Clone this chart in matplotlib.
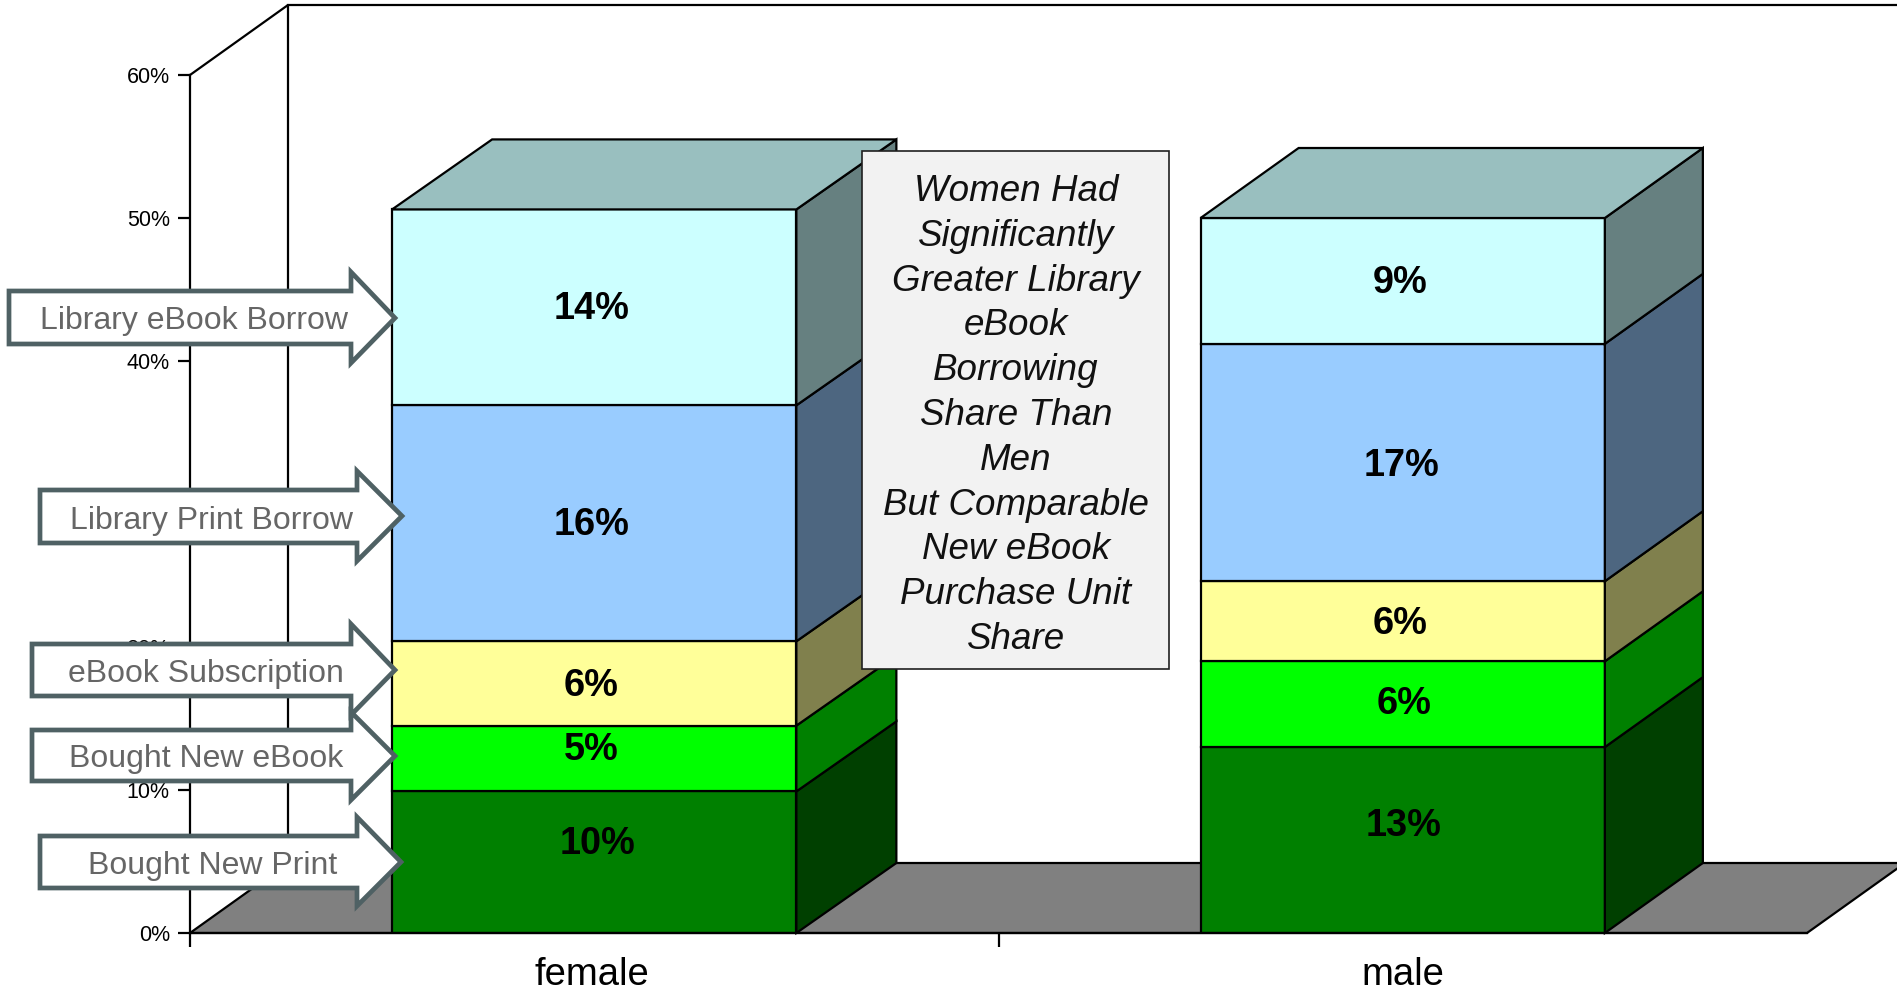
import matplotlib
matplotlib.use("Agg")
import matplotlib.pyplot as plt
from matplotlib.patches import Polygon, Rectangle
from matplotlib.transforms import Affine2D
from matplotlib.colors import to_rgb

plt.rcParams['font.family'] = ['Liberation Sans', 'DejaVu Sans']

# ---- data ----
categories = ["female", "male"]
series_names = ["Bought New Print", "Bought New eBook", "eBook Subscription",
                "Library Print Borrow", "Library eBook Borrow"]
female_values = [9.9, 4.6, 5.9, 16.5, 13.7]
male_values = [13.0, 6.0, 5.6, 16.6, 8.8]
female_labels = ["10%", "5%", "6%", "16%", "14%"]
male_labels = ["13%", "6%", "6%", "17%", "9%"]
y_ticks = [0, 10, 20, 30, 40, 50, 60]
note_lines = ["Women Had", "Significantly", "Greater Library", "eBook", "Borrowing",
              "Share Than", "Men", "But Comparable", "New eBook", "Purchase Unit", "Share"]

# ---- style ----
series_colors = ["#008000", "#00FF00", "#FFFF99", "#99CCFF", "#CCFFFF"]
W, H = 1897, 989
fig = plt.figure(figsize=(W / 100, H / 100), dpi=100, facecolor="white")
# pixel-based transform for annotations (origin top-left)
px = Affine2D().scale(1 / W, -1 / H).translate(0, 1) + fig.transFigure

AX_L, AX_R, AX_T, AX_B = 190, 1807, 75, 933
ax = fig.add_axes([AX_L / W, 1 - AX_B / H, (AX_R - AX_L) / W, (AX_B - AX_T) / H])
ax.set_xlim(0, 2)
ax.set_ylim(0, 60)
ax.patch.set_visible(False)

LW = 1.6
unit = 2 / (AX_R - AX_L)
DX = 98 * unit                # depth in x units
DY = 70 / (AX_B - AX_T) * 60  # depth in y units
BAR_W = 0.5
bar_depths = [100 * unit, 98 * unit]

for s in ("top", "right"):
    ax.spines[s].set_visible(False)
for s in ("left", "bottom"):
    ax.spines[s].set_linewidth(LW)
    ax.spines[s].set_zorder(6)

# floor and back wall
ax.add_patch(Polygon([(0, 0), (DX, DY), (2 + DX, DY), (2, 0)], closed=True,
                     facecolor="#808080", edgecolor="black", lw=LW, clip_on=False, zorder=1))
ax.plot([0, DX, DX], [60, 60 + DY, DY], color="black", lw=LW, clip_on=False, zorder=1)
ax.plot([DX, 2.3], [60 + DY, 60 + DY], color="black", lw=LW, clip_on=False, zorder=1)

def scaled(c, k):
    return tuple(v * k for v in to_rgb(c))

# 3-D stacked bars
for i, vals in enumerate([female_values, male_values]):
    x0 = i + 0.5 - BAR_W / 2
    x1 = x0 + BAR_W
    dx = bar_depths[i]
    bottom = 0
    for v, c in zip(vals, series_colors):
        top = bottom + v
        ax.bar(x0, v, BAR_W, bottom=bottom, align="edge", color=c,
               edgecolor="black", lw=LW, zorder=3)
        ax.add_patch(Polygon([(x1, bottom), (x1 + dx, bottom + DY), (x1 + dx, top + DY), (x1, top)],
                             closed=True, facecolor=scaled(c, 0.5), edgecolor="black",
                             lw=LW, clip_on=False, zorder=3))
        bottom = top
    ax.add_patch(Polygon([(x0, bottom), (x0 + dx, bottom + DY), (x1 + dx, bottom + DY), (x1, bottom)],
                         closed=True, facecolor=scaled(series_colors[-1], 0.75), edgecolor="black",
                         lw=LW, clip_on=False, zorder=3))

# axes ticks
ax.set_yticks(y_ticks)
ax.set_yticklabels([f"{t}%" for t in y_ticks], fontsize=15.5)
ax.tick_params(axis="y", length=9, width=LW, pad=5.5, color="black")
ax.set_xticks([0, 1])
ax.set_xticklabels([])
ax.tick_params(axis="x", length=10, width=LW, color="black")
ax.set_xticks([0.497, 1.5], minor=True)
ax.set_xticklabels(categories, minor=True, fontsize=27.5)
ax.tick_params(axis="x", which="minor", length=0, pad=17)

# value labels (positions as placed in the picture)
female_label_px = [(598, 844), (591, 750), (591, 686), (592, 525), (592, 309)]
male_label_px = [(1404, 826), (1404, 704), (1400, 624), (1401, 466), (1400, 283)]
for labs, pos in ((female_labels, female_label_px), (male_labels, male_label_px)):
    for t, (x, y) in zip(labs, pos):
        ax.text(x, y, t, transform=px, ha="center", va="center", fontsize=27.3,
                fontweight="bold", color="black", zorder=7)

# note box
fig.add_artist(Rectangle((862, 151), 307, 518, transform=px, facecolor="#F2F2F2",
                         edgecolor="#202020", lw=1.2, zorder=8))
for i, line in enumerate(note_lines):
    fig.text(1016, 191.5 + i * 44.8, line, transform=px, ha="center", va="center",
             fontsize=26.5, style="italic", color="#111111", zorder=9)

# callout arrows: left, body right, tip, body top, body bottom, head top, head bottom
arrows = [
    (9, 351, 395, 291, 344, 272, 363, 318, "Library eBook Borrow", 194),
    (40, 357, 402, 490, 543, 471, 561, 516, "Library Print Borrow", 212),
    (32, 351, 395, 644, 696, 624, 715, 670, "eBook Subscription", 206),
    (32, 351, 395, 730, 781, 712, 800, 756, "Bought New eBook", 206),
    (40, 357, 401, 836, 888, 817, 906, 862, "Bought New Print", 213),
]
for z, (l, r, tip, bt, bb, ht, hb, ty, name, tx) in enumerate(arrows):
    fig.add_artist(Polygon([(l, bt), (r, bt), (r, ht), (tip, ty), (r, hb), (r, bb), (l, bb)],
                           closed=True, transform=px, facecolor="white", edgecolor="#4F6164",
                           lw=3.4, joinstyle="miter", zorder=10 + z))
    fig.text(tx, (bt + bb) / 2 + 4, name, transform=px, ha="center", va="center",
             fontsize=23, color="#666666", zorder=10 + z + 0.5)

fig.savefig("out.png", dpi=100)
